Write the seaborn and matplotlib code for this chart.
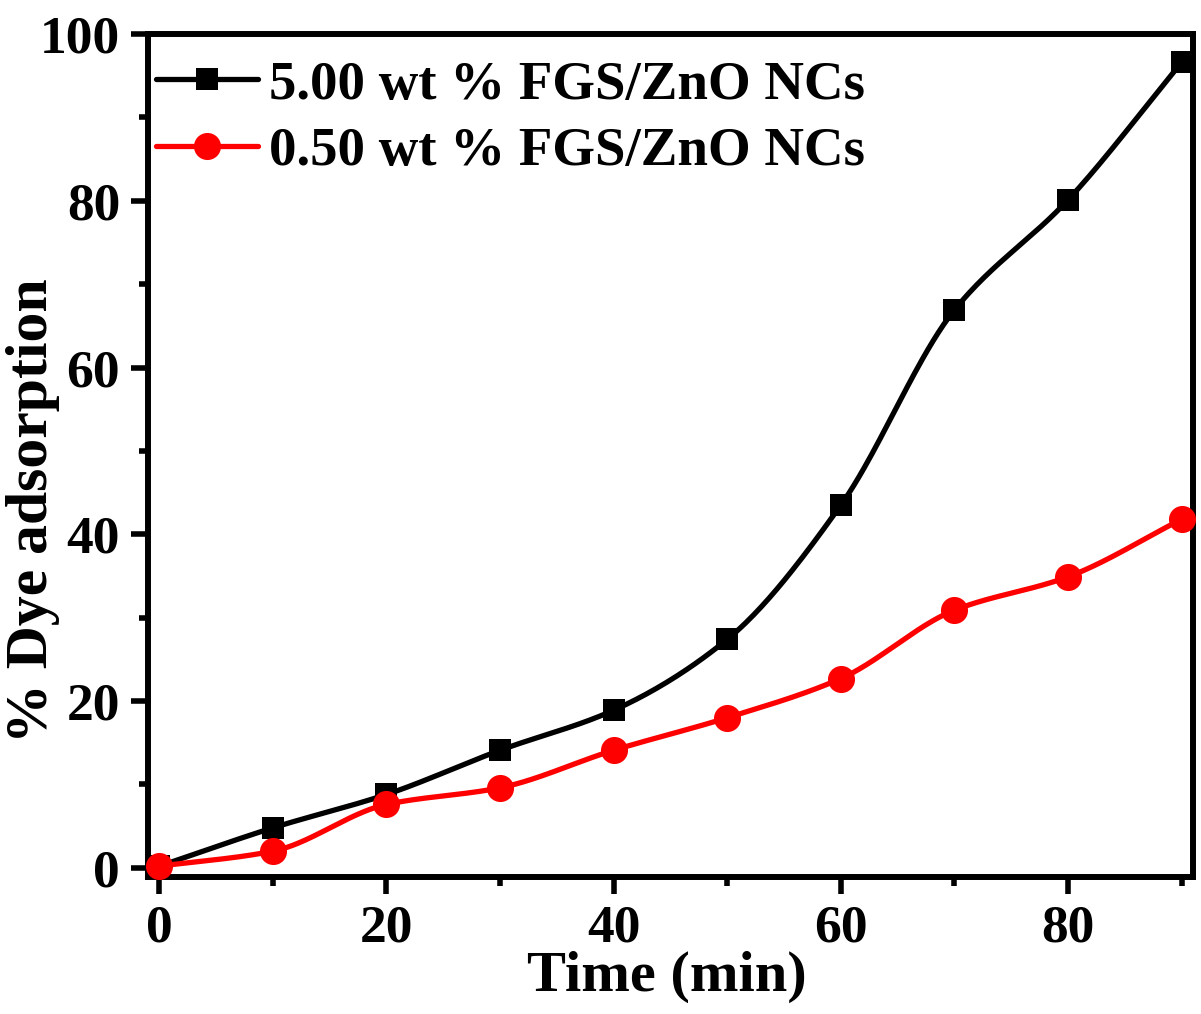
import numpy as np
import pandas as pd
import matplotlib
matplotlib.use('Agg')
import matplotlib.pyplot as plt
from matplotlib.lines import Line2D
from matplotlib.ticker import MultipleLocator
import seaborn as sns

# Data
time_min = [0, 10, 20, 30, 40, 50, 60, 70, 80, 90]
ads_5wt = [0.2, 4.8, 8.8, 14.1, 18.9, 27.4, 43.5, 66.9, 80.1, 96.6]
ads_05wt = [0.2, 2.0, 7.6, 9.6, 14.1, 18.0, 22.7, 30.9, 34.9, 41.8]
labels = ['5.00 wt % FGS/ZnO NCs', '0.50 wt % FGS/ZnO NCs']
colors = ['black', 'red']
markers = ['s', 'o']


def smooth_curve(x, y, n=400):
    """Smooth connecting line through the points (monotone cubic Hermite)."""
    x = np.asarray(x, float)
    y = np.asarray(y, float)
    h = np.diff(x)
    d = np.diff(y) / h
    m = np.zeros_like(y)
    for i in range(1, len(x) - 1):
        if d[i - 1] * d[i] > 0:
            w1 = 2 * h[i] + h[i - 1]
            w2 = h[i] + 2 * h[i - 1]
            m[i] = (w1 + w2) / (w1 / d[i - 1] + w2 / d[i])
    m[0] = d[0]
    m[-1] = d[-1]
    xs = np.linspace(x[0], x[-1], n)
    idx = np.clip(np.searchsorted(x, xs) - 1, 0, len(x) - 2)
    hh = h[idx]
    t = (xs - x[idx]) / hh
    h00 = 2 * t**3 - 3 * t**2 + 1
    h10 = t**3 - 2 * t**2 + t
    h01 = -2 * t**3 + 3 * t**2
    h11 = t**3 - t**2
    ys = h00 * y[idx] + h10 * hh * m[idx] + h01 * y[idx + 1] + h11 * hh * m[idx + 1]
    return xs, ys


sns.set_style('ticks')
plt.rcParams['font.family'] = ['Liberation Serif', 'DejaVu Serif']
plt.rcParams['font.weight'] = 'bold'
for key in ['text.color', 'axes.labelcolor', 'xtick.color', 'ytick.color',
            'axes.edgecolor']:
    plt.rcParams[key] = 'black'

fig = plt.figure(figsize=(12.01, 10.14), dpi=100)
ax = fig.add_axes([0.1232, 0.1351, 0.8701, 0.8314])

handles = []
for ys_data, lab, col, mk, ms in zip([ads_5wt, ads_05wt], labels, colors,
                                     markers, [16.5, 19.5]):
    xs, ys = smooth_curve(time_min, ys_data)
    ax.plot(xs, ys, color=col, linewidth=3.8, zorder=2,
            solid_capstyle='round')
    df = pd.DataFrame({'t': time_min, 'v': ys_data})
    sns.scatterplot(data=df, x='t', y='v', ax=ax, color=col, marker=mk,
                    s=ms**2, edgecolor=col, linewidth=0, zorder=3,
                    clip_on=False)
    handles.append(Line2D([], [], color=col, linewidth=3.8, marker=mk,
                          markersize=ms, markeredgewidth=0, label=lab,
                          solid_capstyle='round'))

ax.set_xlim(-1, 91)
ax.set_ylim(-1.1, 100)
ax.xaxis.set_major_locator(MultipleLocator(20))
ax.xaxis.set_minor_locator(MultipleLocator(10))
ax.yaxis.set_major_locator(MultipleLocator(20))
ax.yaxis.set_minor_locator(MultipleLocator(10))

for sp in ax.spines.values():
    sp.set_linewidth(4.3)
ax.tick_params(which='major', length=12, width=4, labelsize=38.5, pad=8,
               direction='out')
ax.tick_params(which='minor', length=6.5, width=4, direction='out')
for lbl in ax.get_xticklabels() + ax.get_yticklabels():
    lbl.set_fontweight('bold')

ax.set_xlabel('Time (min)', fontsize=42, fontweight='bold')
ax.xaxis.set_label_coords(0.497, -0.088)
ax.set_ylabel('% Dye adsorption', fontsize=43, fontweight='bold')
ax.yaxis.set_label_coords(-0.084, 0.435)

ax.legend(handles=handles, loc='upper left', frameon=False,
          bbox_to_anchor=(0.008, 0.969),
          prop={'size': 39.5, 'weight': 'bold'}, handlelength=1.85,
          handletextpad=0.2, borderaxespad=0.0, labelspacing=0.3,
          borderpad=0.0)

fig.savefig('out.png', dpi=100)
